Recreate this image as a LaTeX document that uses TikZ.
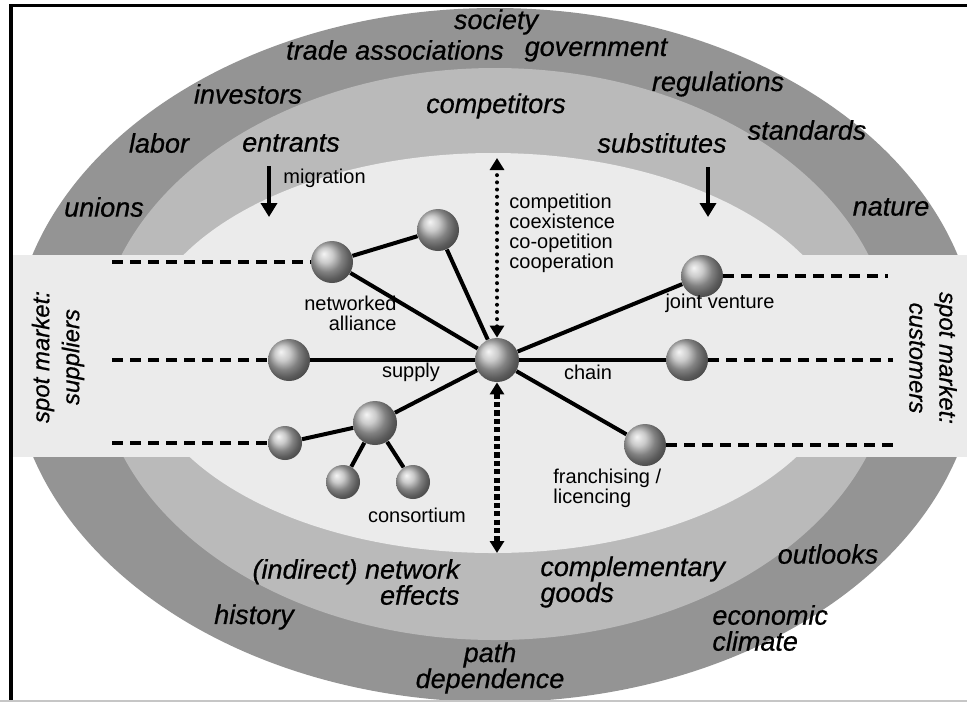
\documentclass[tikz,border=0pt]{standalone}
\usepackage{fontspec}
\setmainfont{Liberation Sans}
\newfontfamily\ringfont{Liberation Sans}[FakeBold=0.6]
\usetikzlibrary{arrows.meta,positioning}

\definecolor{outerring}{gray}{0.58}
\definecolor{midring}{gray}{0.73}
\definecolor{core}{gray}{0.92}

\begin{document}
\begin{tikzpicture}[x=0.5pt, y=-0.5pt,
  ring/.style={font=\ringfont\fontsize{13.5}{13}\selectfont\itshape, inner sep=0pt},
  lbl/.style={font=\fontsize{10}{10}\selectfont, inner sep=0pt},
  spot/.style={font=\ringfont\fontsize{12}{15}\selectfont\itshape, inner sep=0pt, align=center},
  ball/.style={circle, inner sep=0pt, minimum size=21pt, ball color=gray!55},
  hubball/.style={ball, minimum size=22pt},
  smallball/.style={ball, minimum size=17pt},
  link/.style={line width=2pt},
  spotline/.style={line width=2pt, dash pattern=on 5.5pt off 3.5pt},
  mig/.style={line width=2.4pt, -{Triangle[length=7pt,width=8pt]}},
  dotarrow/.style={line width=2pt, line cap=round, dash pattern=on 0pt off 3.6pt,
    {Triangle[length=6pt,width=7pt]}-{Triangle[length=6pt,width=7pt]}},
  sqarrow/.style={line width=2.8pt, dash pattern=on 2.6pt off 1.6pt,
    {Triangle[length=6pt,width=7pt]}-{Triangle[length=6pt,width=7pt]}}]
\useasboundingbox (0,0) rectangle (967,703);

% rings and the spot market band
\begin{scope}
\clip (12,6) rectangle (967,700);
\fill[outerring] (495,355) ellipse [x radius=483, y radius=347];
\fill[midring] (495,354) ellipse [x radius=398, y radius=286];
\fill[core] (493,353) ellipse [x radius=355, y radius=200];
\fill[core] (13,255) rectangle (967,457);
\end{scope}

% frame
\draw[line width=2pt] (11,4) -- (11,700);
\draw[line width=1.5pt] (10,5) -- (967,5);
\draw[gray!45, line width=1pt] (0,701) -- (967,701);

% firms
\node[hubball] (hub) at (497,360) {};
\node[ball] (na1) at (332,262) {};
\node[ball] (na2) at (438,230) {};
\node[ball] (sup) at (289,360) {};
\node[ball] (jv) at (702,276) {};
\node[ball] (cust) at (687,360) {};
\node[ball] (fr) at (645,445) {};
\node[ball, minimum size=22pt] (co) at (375,423) {};
\node[smallball] (co1) at (285,443) {};
\node[smallball] (co2) at (343,482) {};
\node[smallball] (co3) at (413,482) {};

\draw[link] (hub) -- (na1); \draw[link] (hub) -- (na2); \draw[link] (na1) -- (na2);
\draw[link] (hub) -- (sup); \draw[link] (hub) -- (cust); \draw[link] (hub) -- (jv);
\draw[link] (hub) -- (fr); \draw[link] (hub) -- (co);
\draw[link] (co) -- (co1); \draw[link] (co) -- (co2); \draw[link] (co) -- (co3);

% spot market ties
\coordinate (sl1) at (112,262); \coordinate (sl2) at (112,360); \coordinate (sl3) at (112,443);
\coordinate (sr1) at (888,276); \coordinate (sr2) at (893,360); \coordinate (sr3) at (893,445);
\draw[spotline] (sl1) -- (na1); \draw[spotline] (sl2) -- (sup); \draw[spotline] (sl3) -- (co1);
\draw[spotline] (jv) -- (sr1); \draw[spotline] (cust) -- (sr2); \draw[spotline] (fr) -- (sr3);

% modes of interaction
\coordinate (ctop) at (497,158); \coordinate (cbot) at (497,553);
\draw[dotarrow] (hub.north) -- (ctop);
\draw[sqarrow] (hub.south) -- (cbot);

% outer rings
\node[ring] (soc) at (496,22) {society};
\node[ring] (trade) at (395,50) {trade associations};
\node[ring] (gov) at (596,50) {government};
\node[ring] (inv) at (248,94) {investors};
\node[ring] (comp) at (496,106) {competitors};
\node[ring] (reg) at (718,84) {regulations};
\node[ring] (lab) at (159,143) {labor};
\node[ring] (ent) at (291,143) {entrants};
\node[ring] (subst) at (662,143) {substitutes};
\node[ring] (std) at (807,130) {standards};
\node[ring] (uni) at (104,207) {unions};
\node[ring] (nat) at (891,207) {nature};
\node[ring] (outl) at (828,554) {outlooks};
\node[ring, align=right, anchor=east] (neteff) at (460,582) {(indirect) network\\effects};
\node[ring, align=left, anchor=west] (compl) at (540,582) {complementary\\goods};
\node[ring] (hist) at (254,617) {history};
\node[ring, align=left, anchor=west] (econ) at (712,628) {economic\\climate};
\node[ring, align=center] (path) at (490,668) {path\\dependence};

% entry
\coordinate (entb) at (269,217); \coordinate (subb) at (708,217);
\draw[mig] (ent.south -| entb) ++(0,14) -- (entb);
\draw[mig] (subst.south -| subb) ++(0,14) -- (subb);
\node[lbl, anchor=west] (migr) at (283,178) {migration};

% inner labels
\node[lbl, align=left, anchor=west] (modes) at (509,233) {competition\\coexistence\\co-opetition\\cooperation};
\node[lbl, align=right, anchor=east] (netall) at (397,313) {networked\\alliance};
\node[lbl] (supl) at (411,372) {supply};
\node[lbl] (chl) at (588,372) {chain};
\node[lbl] (jvl) at (720,303) {joint venture};
\node[lbl, align=left, anchor=west] (frl) at (553,488) {franchising /\\licencing};
\node[lbl] (col) at (417,515) {consortium};

% spot markets
\node[spot, rotate=90] (smsup) at (58,357) {spot market:\\suppliers};
\node[spot, rotate=-90] (smcus) at (933,358) {spot market:\\customers};
\end{tikzpicture}
\end{document}
